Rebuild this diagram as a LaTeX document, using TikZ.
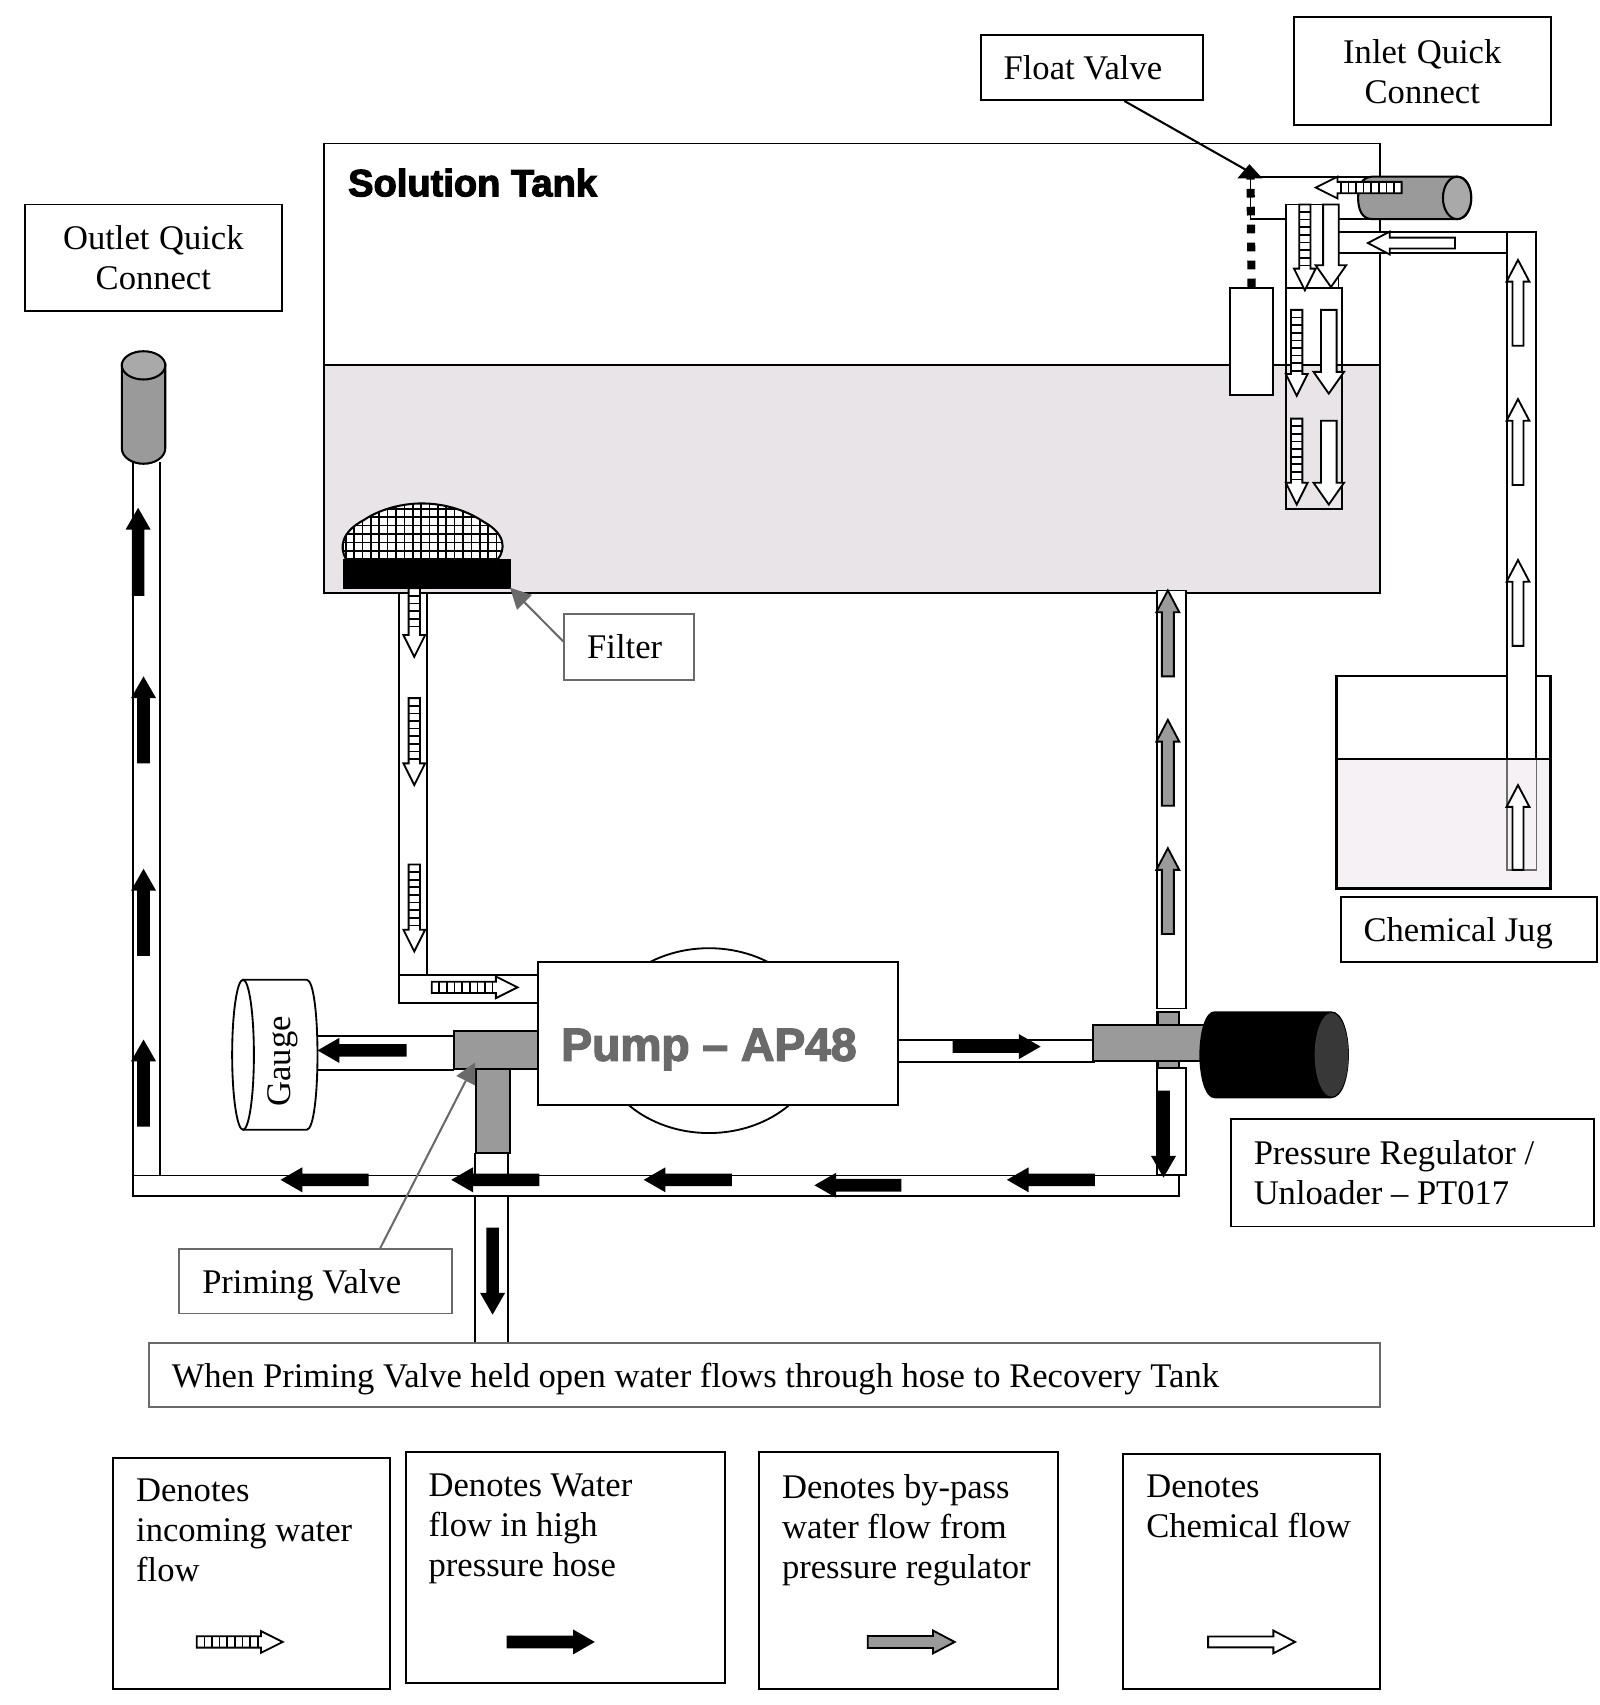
\documentclass[tikz,border=0pt]{standalone}
\usepackage{fontspec}
\usetikzlibrary{arrows.meta}
\setmainfont{Liberation Serif}
\newfontfamily\heavysans[BoldFeatures={FakeBold=3}]{Liberation Sans}
\definecolor{water}{HTML}{E8E4E8}
\definecolor{chem}{HTML}{F5F1F5}
\definecolor{midgray}{HTML}{9A9A9A}
\definecolor{labelgray}{HTML}{6A6A6A}
% block arrows: x, y of the tail, direction, length
\newcommand{\blockshape}[7]{% style, x, y, angle, len, shaft half, head half / head length
  \begin{scope}[shift={(#2,#3)},rotate=#4]
    \draw[#1] (0,#6)--({#5-20},#6)--({#5-20},#7)--(#5,0)--({#5-20},-#7)--({#5-20},-#6)--(0,-#6)--cycle;
  \end{scope}}
\newcommand{\blk}[4]{\blockshape{draw=none,fill=black}{#1}{#2}{#3}{#4}{5.8}{11.5}}
\newcommand{\gry}[4]{\blockshape{arrowline,fill=midgray}{#1}{#2}{#3}{#4}{5.5}{10.5}}
\newcommand{\wht}[4]{\blockshape{arrowline,fill=white}{#1}{#2}{#3}{#4}{5}{10.5}}
\newcommand{\whtwide}[4]{\blockshape{arrowline,fill=white}{#1}{#2}{#3}{#4}{7.2}{14}}
\newcommand{\lad}[4]{%
  \blockshape{arrowline,fill=white}{#1}{#2}{#3}{#4}{5.2}{10}%
  \begin{scope}[shift={(#1,#2)},rotate=#3]
    \pgfmathsetmacro{\ladend}{#4-22}
    \foreach \r in {7,14,...,\ladend}{\draw[line width=1.5pt] (\r,-5.2)--(\r,5.2);}
  \end{scope}}
% box: name, x1, y1, x2, y2, style, text
\newcommand{\lbox}[7]{%
  \node[labelbox,#6,minimum width={(#4-#2)*1pt},minimum height={(#5-#3)*1pt},text width={(#4-#2-42)*1pt}] (#1) at ({(#2+#4)/2},{(#3+#5)/2}) {\spaceskip=0pt\xspaceskip=0pt\relax #7};}
\newcommand{\lowered}[1]{\raisebox{-3.5pt}[\height][\depth]{#1}}
\tikzset{
  labelbox/.style={draw,fill=white,line width=1.7pt,inner xsep=21pt,inner ysep=0pt,align=left,font=\fontsize{31.8}{36.8}\selectfont},
  graybox/.style={draw=labelgray},
  legendtext/.style={inner sep=0pt,align=left,font=\fontsize{31.8}{36.8}\selectfont},
  pipe/.style={draw,fill=white,line width=1.7pt},
  wall/.style={line width=1.7pt},
  graypart/.style={draw,fill=midgray,line width=1.9pt},
  arrowline/.style={draw,line width=1.7pt},
  pointer/.style={draw=labelgray,line width=1.9pt,-{Triangle[length=19pt,width=19pt,fill=labelgray]}},
}
\begin{document}
\begin{tikzpicture}[x=1pt,y=-1pt]
\useasboundingbox (0,0) rectangle (1471,1568);
% --- solution tank
\fill[water] (298,336) rectangle (1269,545);
\draw[wall] (298,132) rectangle (1269,545);
\draw[wall] (298,336) -- (1269,336);
\node[inner sep=0pt,anchor=west,font=\fontsize{35}{38}\selectfont\heavysans\bfseries] (tanklabel) at (320,168) {Solution Tank};
% --- chemical jug
\fill[chem] (1229,698) rectangle (1426,817);
\draw[line width=2.1pt] (1229,622) rectangle (1426,817);
\draw[wall] (1229,698) -- (1426,698);
\draw[line width=1.5pt,draw=labelgray] (1386,698) rectangle (1413,800);
\draw[pipe] (1231,213.5) rectangle (1412,233);
\fill[white] (1387,214) rectangle (1412,232);
\draw[pipe] (1386,213.5) rectangle (1412.5,698);
% --- inlet chamber and quick connect
\draw[wall] (1150,162.5) -- (1260,162.5);
\draw[wall] (1150,162.5) -- (1150,201.5) -- (1260,201.5);
\draw[graypart] (1262,162.5) -- (1340,162.5) .. controls (1357.3,162.5) and (1357.3,201.5) .. (1340,201.5) -- (1262,201.5) .. controls (1252,201.5) and (1249,192) .. (1249,182) .. controls (1249,172) and (1252,162.5) .. (1262,162.5) -- cycle;
\draw[graypart,fill=midgray!85] (1340,182) ellipse[x radius=13,y radius=19.5];
\draw[wall,fill=white] (1182.5,188) rectangle (1231,265);
\draw[wall] (1182.5,265) rectangle (1234,468);
% --- float
\node[draw,fill=white,line width=1.7pt,minimum width=40pt,minimum height=98pt,inner sep=0pt] (float) at (1151,314) {};
\coordinate (fvtip) at (1149,158);
\draw[line width=7.5pt,dash pattern=on 8pt off 8.5pt] (float.north) -- (1150,163);
\fill (1138,164) -- (1149,151) -- (1161,164) -- cycle;
% --- chamber arrows
\lad{1200}{188}{-90}{79}
\whtwide{1224}{188}{-90}{76}
\lad{1192.5}{285}{-90}{79}
\whtwide{1222}{285}{-90}{77}
\lad{1192.5}{385}{-90}{79}
\whtwide{1222}{387}{-90}{77}
\lad{1289}{172.5}{180}{79}
\wht{1338}{223.5}{180}{80}
\wht{1396}{318}{90}{79}
\wht{1396}{446}{90}{79}
\wht{1396}{594}{90}{79}
\wht{1396}{800}{90}{78}
% --- filter
\begin{scope}
  \clip (318,514) .. controls (312,503) and (314,489) .. (335,478) .. controls (350,468) and (370,463) .. (388,463) .. controls (410,463) and (430,470) .. (445,480) .. controls (465,491) and (465,505) .. (458,514) -- cycle;
  \fill[white] (310,460) rectangle (470,516);
  \foreach \gx in {318,325.7,...,465}{\draw[line width=1.5pt] (\gx,460)--(\gx,516);}
  \foreach \gy in {468,475.7,...,516}{\draw[line width=1.5pt] (310,\gy)--(470,\gy);}
\end{scope}
\draw[line width=1.9pt] (318,514) .. controls (312,503) and (314,489) .. (335,478) .. controls (350,468) and (370,463) .. (388,463) .. controls (410,463) and (430,470) .. (445,480) .. controls (465,491) and (465,505) .. (458,514);
\fill (315,514) rectangle (470,542);
% --- suction pipe
\draw[wall] (367,545) -- (367,897);
\draw[wall] (393,545) -- (393,897);
\draw[pipe] (367,897) rectangle (495,922.5);
\lad{381}{541}{-90}{63}
\lad{381}{642}{-90}{80}
\lad{381}{795}{-90}{80}
\lad{397}{908}{0}{79}
% --- pump
\draw[wall] (652,957) ellipse[x radius=103,y radius=85];
\node[labelbox,minimum width=331pt,minimum height=131pt,text width=289pt] (pump) at (660.5,950.5) {};
\node[inner sep=0pt,text=labelgray,font=\fontsize{42.5}{48}\selectfont\heavysans\bfseries] (pumplabel) at (652,965) {Pump – AP48};
% --- gauge
\draw[pipe] (285,953) rectangle (417,984);
\draw[wall,fill=white] (223.5,901) -- (282,901) .. controls (295.3,901) and (295.3,1039) .. (282,1039) -- (223.5,1039);
\draw[wall,fill=white] (223.5,970) ellipse[x radius=10,y radius=69];
\node[rotate=90,inner sep=0pt,font=\fontsize{31.8}{36}\selectfont] (gaugelabel) at (260,976) {Gauge};
% --- priming valve body
\draw[wall] (437,1060) -- (437,1081);
\draw[wall] (467,1060) -- (467,1081);
\draw[graypart] (417.5,948.5) rectangle (495,983.5);
\draw[graypart] (437.5,983.5) rectangle (469,1060);
% --- by-pass line and outlet
\draw[pipe] (122,1081) rectangle (1084,1100);
\draw[wall] (122,1100) -- (122,425);
\draw[wall] (147,1081) -- (147,425);
\draw[wall] (437,1100) -- (437,1235);
\draw[wall] (467,1100) -- (467,1235);
\draw[graypart] (112,335) -- (112,412) .. controls (112,421) and (122,426.5) .. (132,426.5) .. controls (142,426.5) and (152,421) .. (152,412) -- (152,335) -- cycle;
\draw[graypart,fill=midgray!85] (132,336) ellipse[x radius=20,y radius=13];
% --- return pipes and regulator
\draw[pipe] (1064,543) rectangle (1090.5,927.5);
\draw[pipe] (1064,982) rectangle (1090.5,1080.5);
\draw[pipe] (826,956.5) rectangle (1006,976.5);
\draw[graypart] (1064.5,930.5) rectangle (1084,982);
\draw[graypart] (1005,942.5) rectangle (1112,976);
\fill (1117,930) -- (1224,930) .. controls (1246,930) and (1246,1010) .. (1224,1010) -- (1117,1010) .. controls (1108,1010) and (1103,990) .. (1103,970) .. controls (1103,950) and (1108,930) .. (1117,930) -- cycle;
\fill[black!78] (1224.5,970) ellipse[x radius=15.5,y radius=38.5];
\gry{1074}{622}{90}{79}
\gry{1074}{741}{90}{79}
\gry{1074}{859}{90}{79}
% --- high pressure arrows
\blk{876}{962.5}{0}{81}
\blk{374}{966}{180}{82}
\blk{1070}{1003}{-90}{80}
\blk{1007}{1085}{180}{81}
\blk{829}{1090}{180}{80}
\blk{673}{1085}{180}{81}
\blk{496}{1085}{180}{81}
\blk{339}{1085}{180}{81}
\blk{453}{1129}{-90}{80}
\blk{127}{548}{90}{81}
\blk{132}{702}{90}{80}
\blk{132}{879}{90}{80}
\blk{132}{1036}{90}{80}
% --- labels
\lbox{fv}{902}{32}{1106}{92}{}{Float Valve}
\lbox{iq}{1190}{16}{1426}{115}{align=center}{Inlet Quick\\Connect}
\lbox{oq}{23}{188}{259}{286}{align=center}{Outlet Quick\\Connect}
\lbox{flt}{519}{565}{638}{625}{graybox}{Filter}
\lbox{cj}{1233}{825}{1469}{885}{}{\lowered{Chemical Jug}}
\lbox{pr}{1132}{1029}{1466}{1128}{}{Pressure Regulator /\\Unloader -- PT017}
\lbox{pv}{165}{1149}{416}{1208}{graybox}{\lowered{Priming Valve}}
\lbox{note}{137}{1235}{1269}{1294}{graybox}{\lowered{When Priming Valve held open water flows through hose to Recovery Tank}}
\draw[line width=1.9pt] ([xshift=30pt]fv.south) -- (fvtip);
\coordinate (flttip) at (469,540.5);
\draw[pointer] ([yshift=5pt]flt.west) -- (flttip);
\coordinate (pvtip) at (437,977);
\draw[pointer] ([xshift=59pt]pv.north) -- (pvtip);
% --- legend
\lbox{lg1}{104}{1341}{359}{1553}{}{}
\lbox{lg2}{373}{1335}{667}{1548}{}{}
\lbox{lg3}{698}{1335}{973}{1553}{}{}
\lbox{lg4}{1033}{1337}{1269}{1553}{}{}
\node[legendtext,anchor=north west] (lt1) at (125,1360) {Denotes\\incoming water\\flow};
\node[legendtext,anchor=north west] (lt2) at (394,1355.5) {Denotes Water\\flow in high\\pressure hose};
\node[legendtext,anchor=north west] (lt3) at (719,1355.5) {Denotes by-pass\\water flow from\\pressure regulator};
\node[legendtext,anchor=north west] (lt4) at (1054,1356) {Denotes\\Chemical flow};
\lad{181}{1510}{0}{79}
\blk{466}{1510}{0}{81}
\gry{798}{1510}{0}{80}
\wht{1111}{1510}{0}{80}
\end{tikzpicture}
\end{document}
